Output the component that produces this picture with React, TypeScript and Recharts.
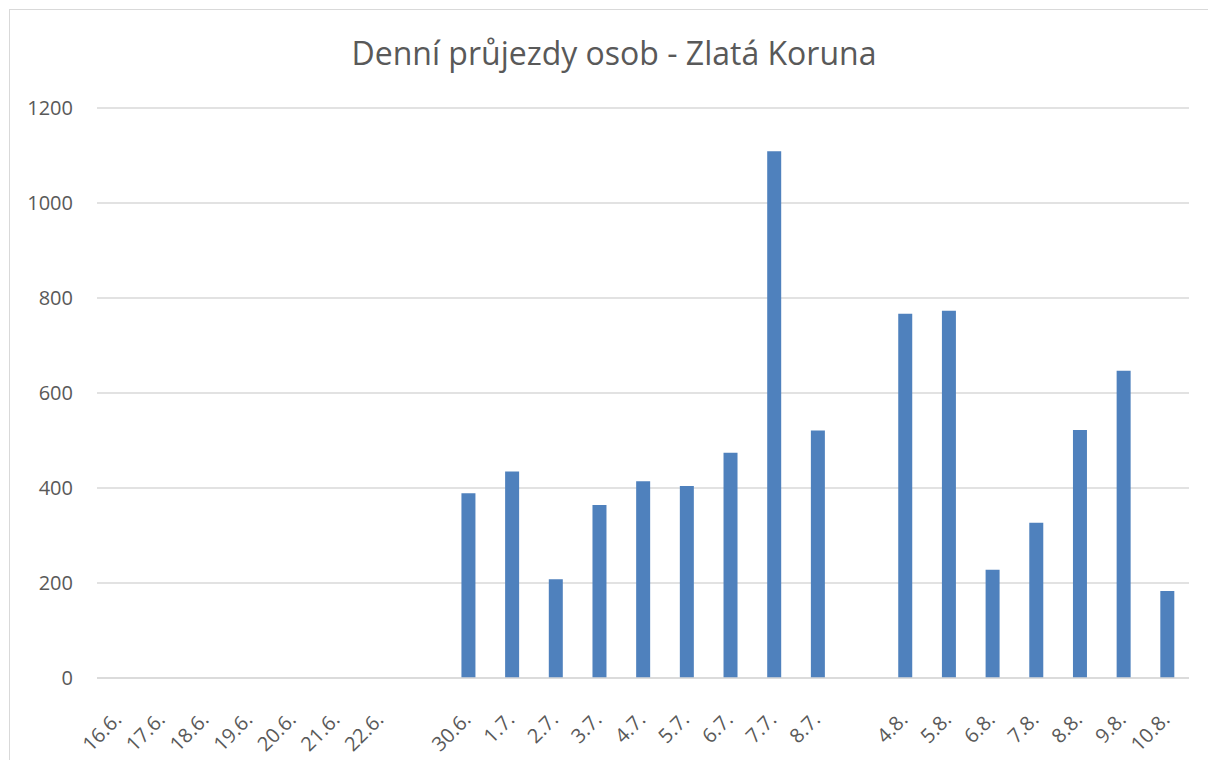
import { BarChart, Bar, XAxis, YAxis, CartesianGrid } from 'recharts';

// ─── Data ───────────────────────────────────────────────────────────────────
// blank categories keep the gaps between the date groups
const days = [
  '16.6.', '17.6.', '18.6.', '19.6.', '20.6.', '21.6.', '22.6.', ' ',
  '30.6.', '1.7.', '2.7.', '3.7.', '4.7.', '5.7.', '6.7.', '7.7.', '8.7.', '  ',
  '4.8.', '5.8.', '6.8.', '7.8.', '8.8.', '9.8.', '10.8.',
];
const passes = [
  null, null, null, null, null, null, null, null,
  389, 435, 208, 364, 414, 404, 474, 1109, 521, null,
  767, 773, 228, 327, 522, 647, 183,
];
const yTicks = [0, 200, 400, 600, 800, 1000, 1200];

const data = days.map((day, i) => ({ day, value: passes[i] }));

const FONT = '"Open Sans", sans-serif';
const TEXT = '#595959';

const DayTick = ({ x, y, payload }: any) => (
  <text
    x={x}
    y={y + 31}
    transform={`rotate(-45 ${x} ${y + 31})`}
    textAnchor="end"
    dominantBaseline="middle"
    fill={TEXT}
    fontSize={20}
    fontFamily={FONT}
  >
    {payload.value}
  </text>
);

export default function App() {
  return (
    <div style={{ position: 'absolute', left: 0, top: 0, width: 1208, height: 760, overflow: 'hidden', background: '#fff' }}>
      <div
        style={{
          position: 'absolute',
          left: 9,
          top: 9,
          width: 1230,
          height: 780,
          border: '1px solid #d9d9d9',
        }}
      />
      <div
        style={{
          position: 'absolute',
          left: 0,
          top: 31,
          width: 1228,
          textAlign: 'center',
          fontFamily: FONT,
          fontSize: 32,
          color: TEXT,
          lineHeight: '44px',
        }}
      >
        Denní průjezdy osob - Zlatá Koruna
      </div>
      <div style={{ position: 'absolute', left: 0, top: 0 }}>
        <BarChart
          width={1208}
          height={760}
          data={data}
          margin={{ top: 108, right: 19, left: 0, bottom: 0 }}
          barSize={14}
        >
          <CartesianGrid vertical={false} stroke="#d9d9d9" strokeWidth={1.5} />
          <XAxis
            dataKey="day"
            interval={0}
            height={82}
            axisLine={{ stroke: '#d9d9d9', strokeWidth: 1.5 }}
            tickLine={false}
            tick={<DayTick />}
          />
          <YAxis
            width={97}
            domain={[0, 1200]}
            ticks={yTicks}
            axisLine={false}
            tickLine={false}
            tickMargin={18}
            tick={{ fill: TEXT, fontSize: 20, fontFamily: FONT }}
          />
          <Bar dataKey="value" fill="#4f81bd" isAnimationActive={false} />
        </BarChart>
      </div>
    </div>
  );
}
